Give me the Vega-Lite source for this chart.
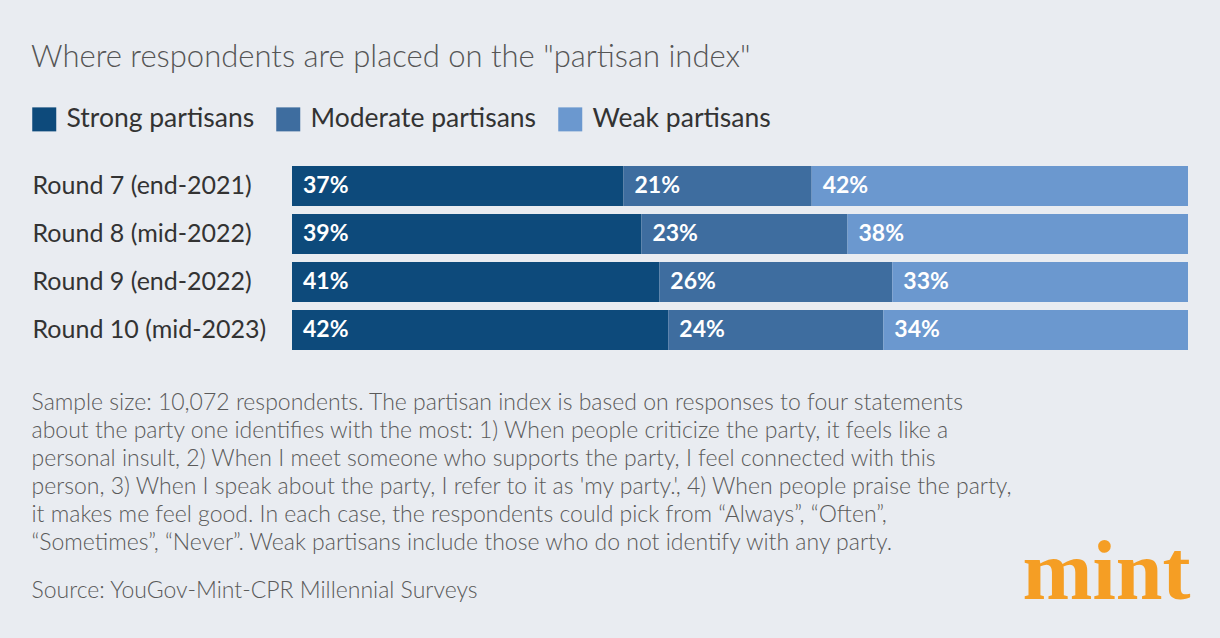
{
  "$schema": "https://vega.github.io/schema/vega-lite/v6.json",
  "width": 896,
  "height": 192,
  "autosize": "none",
  "padding": {"left": 292, "top": 162, "right": 32, "bottom": 284},
  "background": "#e9ecf1",
  "title": {
    "text": "Where respondents are placed on the \"partisan index\"",
    "anchor": "start",
    "frame": "group",
    "orient": "top",
    "dx": -261,
    "offset": 32,
    "font": "Lato",
    "fontSize": 31,
    "fontWeight": 300,
    "color": "#555555",
    "limit": 0
  },
  "data": {
    "values": [
      {"round": "Round 7 (end-2021)", "group": "Strong partisans", "value": 0.37},
      {"round": "Round 7 (end-2021)", "group": "Moderate partisans", "value": 0.21},
      {"round": "Round 7 (end-2021)", "group": "Weak partisans", "value": 0.42},
      {"round": "Round 8 (mid-2022)", "group": "Strong partisans", "value": 0.39},
      {"round": "Round 8 (mid-2022)", "group": "Moderate partisans", "value": 0.23},
      {"round": "Round 8 (mid-2022)", "group": "Weak partisans", "value": 0.38},
      {"round": "Round 9 (end-2022)", "group": "Strong partisans", "value": 0.41},
      {"round": "Round 9 (end-2022)", "group": "Moderate partisans", "value": 0.26},
      {"round": "Round 9 (end-2022)", "group": "Weak partisans", "value": 0.33},
      {"round": "Round 10 (mid-2023)", "group": "Strong partisans", "value": 0.42},
      {"round": "Round 10 (mid-2023)", "group": "Moderate partisans", "value": 0.24},
      {"round": "Round 10 (mid-2023)", "group": "Weak partisans", "value": 0.34}
    ]
  },
  "transform": [
    {"calculate": "indexof(['Strong partisans', 'Moderate partisans', 'Weak partisans'], datum.group)", "as": "rank"},
    {"stack": "value", "groupby": ["round"], "sort": [{"field": "rank", "order": "ascending"}], "as": ["v0", "v1"]}
  ],
  "layer": [
    {
      "mark": {"type": "bar", "cornerRadius": 0},
      "encoding": {
        "y": {
          "field": "round",
          "type": "nominal",
          "sort": ["Round 7 (end-2021)", "Round 8 (mid-2022)", "Round 9 (end-2022)", "Round 10 (mid-2023)"],
          "scale": {"paddingInner": 0.1667, "paddingOuter": 0.0833},
          "axis": {
            "orient": "left",
            "domain": false,
            "ticks": false,
            "labelAlign": "left",
            "labelPadding": 260,
            "labelLimit": 0,
            "labelFont": "Lato",
            "labelFontSize": 25,
            "labelColor": "#333333",
            "title": "Source: YouGov-Mint-CPR Millennial Surveys",
            "titleAngle": 0,
            "titleX": -261,
            "titleY": 435,
            "titleAlign": "left",
            "titleBaseline": "alphabetic",
            "titleLimit": 0,
            "titleFont": "Lato",
            "titleFontSize": 23,
            "titleFontWeight": 300,
            "titleColor": "#5a5a5a"
          }
        },
        "x": {
          "field": "v0",
          "type": "quantitative",
          "scale": {"domain": [0, 1], "nice": false},
          "axis": {
            "domain": false,
            "ticks": false,
            "labels": false,
            "grid": false,
            "title": [
              "Sample size: 10,072 respondents. The partisan index is based on responses to four statements",
              "about the party one identifies with the most: 1) When people criticize the party, it feels like a",
              "personal insult, 2) When I meet someone who supports the party, I feel connected with this",
              "person, 3) When I speak about the party, I refer to it as 'my party.', 4) When people praise the party,",
              "it makes me feel good. In each case, the respondents could pick from “Always”, “Often”,",
              "“Sometimes”, “Never”. Weak partisans include those who do not identify with any party."
            ],
            "titleX": -261,
            "titleY": 37,
            "titleAlign": "left",
            "titleBaseline": "top",
            "titleLineHeight": 28,
            "titleLimit": 0,
            "titleFont": "Lato",
            "titleFontSize": 23,
            "titleFontWeight": 300,
            "titleColor": "#5a5a5a"
          }
        },
        "x2": {"field": "v1"},
        "color": {
          "field": "group",
          "type": "nominal",
          "scale": {
            "domain": ["Strong partisans", "Moderate partisans", "Weak partisans"],
            "range": ["#0d4a7b", "#3e6d9f", "#6b98cf"]
          },
          "legend": {
            "orient": "none",
            "legendX": -261,
            "legendY": -56,
            "direction": "horizontal",
            "title": null,
            "symbolType": "square",
            "symbolSize": 576,
            "symbolStrokeWidth": 0,
            "symbolOpacity": 1,
            "labelFont": "Lato",
            "labelFontSize": 26.5,
            "labelLimit": 0,
            "labelColor": "#333333",
            "labelOffset": 9,
            "columnPadding": 20
          }
        }
      }
    },
    {
      "mark": {"type": "text", "align": "left", "baseline": "middle", "dx": 11, "font": "Lato", "fontSize": 23, "fontWeight": "bold", "color": "#ffffff"},
      "encoding": {
        "y": {
          "field": "round",
          "type": "nominal",
          "sort": ["Round 7 (end-2021)", "Round 8 (mid-2022)", "Round 9 (end-2022)", "Round 10 (mid-2023)"],
          "axis": {
            "orient": "right",
            "domain": false,
            "ticks": false,
            "labels": false,
            "title": "mint",
            "titleAngle": 0,
            "titleX": 2,
            "titleY": 436,
            "titleAlign": "right",
            "titleBaseline": "alphabetic",
            "titleFont": "Liberation Serif",
            "titleFontSize": 84,
            "titleFontWeight": "bold",
            "titleColor": "#f59e24"
          }
        },
        "x": {"field": "v0", "type": "quantitative"},
        "text": {"field": "value", "type": "quantitative", "format": ".0%"}
      }
    }
  ],
  "resolve": {"axis": {"y": "independent"}},
  "config": {"view": {"stroke": null}}
}
